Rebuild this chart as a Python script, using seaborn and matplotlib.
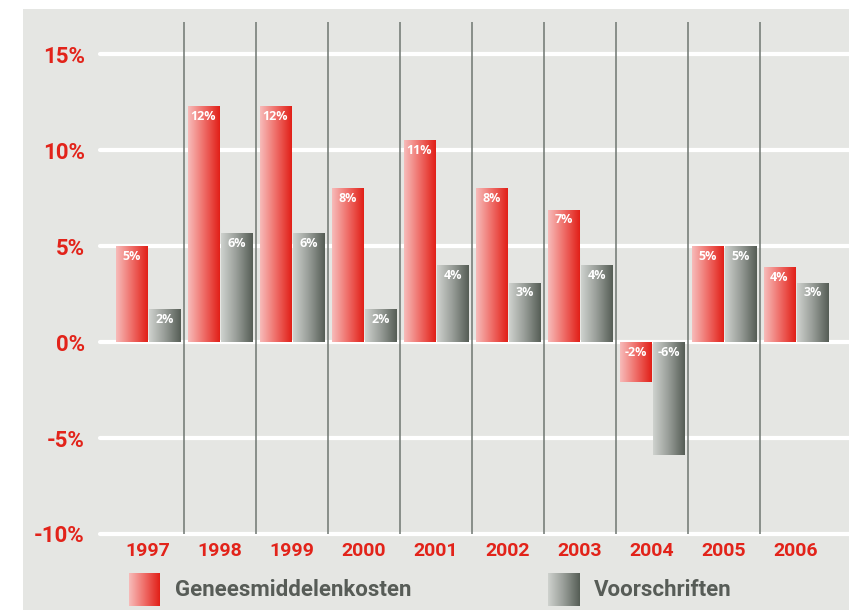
import numpy as np
import pandas as pd
import matplotlib
matplotlib.use("Agg")
import matplotlib.pyplot as plt
from matplotlib.colors import LinearSegmentedColormap
from matplotlib.patches import Rectangle
import seaborn as sns

# data
jaren = ['1997', '1998', '1999', '2000', '2001', '2002', '2003', '2004', '2005', '2006']
reeksen = ['Geneesmiddelenkosten', 'Voorschriften']
kosten = [5.0, 12.3, 12.3, 8.0, 10.5, 8.0, 6.9, -2.1, 5.0, 3.9]
voorschriften = [1.7, 5.7, 5.7, 1.7, 4.0, 3.1, 4.0, -5.9, 5.0, 3.1]
kosten_labels = ['5%', '12%', '12%', '8%', '11%', '8%', '7%', '-2%', '5%', '4%']
voorschriften_labels = ['2%', '6%', '6%', '2%', '4%', '3%', '4%', '-6%', '5%', '3%']
y_ticks = [-10, -5, 0, 5, 10, 15]
y_ticklabels = ['-10%', '-5%', '0%', '5%', '10%', '15%']

df = pd.DataFrame({
    'jaar': jaren * 2,
    'reeks': [reeksen[0]] * len(jaren) + [reeksen[1]] * len(jaren),
    'waarde': kosten + voorschriften,
})

ROOD = '#e2231a'
BG = '#e5e6e3'
TXT = '#575c57'
cmap_rood = LinearSegmentedColormap.from_list('rood', ['#f7bcba', '#ef6d68', '#e11f17'])
cmap_grijs = LinearSegmentedColormap.from_list('grijs', ['#cfd2ce', '#979c97', '#555d55'])
grad = np.linspace(0, 1, 256).reshape(1, -1)

narrow = ['Roboto', 'DejaVu Sans']
normal = ['Open Sans', 'DejaVu Sans']

sns.set_theme(style='white')
plt.rcParams['font.family'] = normal

fig = plt.figure(figsize=(8.49, 6.10), dpi=100)
fig.patch.set_facecolor('white')
fig.patches.append(Rectangle((23 / 849, 0), 1, 1 - 9 / 610, transform=fig.transFigure,
                             facecolor=BG, edgecolor='none', zorder=-5))

ax = fig.add_axes([100 / 849, 1 - 534 / 610, 749 / 849, 512 / 610])
ax.set_facecolor('none')
ax.set_zorder(2)

sns.barplot(data=df, x='jaar', y='waarde', hue='reeks', hue_order=reeksen,
            palette=[ROOD, '#777777'], width=0.92, gap=0.06, legend=False,
            edgecolor='none', ax=ax, zorder=3)

# gradient fill
for cont, cmap in zip(ax.containers, [cmap_rood, cmap_grijs]):
    for p in cont.patches:
        bb = p.get_bbox()
        im = ax.imshow(grad, cmap=cmap, aspect='auto', zorder=3,
                       extent=[bb.x0, bb.x1, bb.y0, bb.y1], interpolation='bilinear')
        im.set_clip_path(p)
        p.set_facecolor('none')

# value labels
for i in range(len(jaren)):
    for cont, vals, labs in zip(ax.containers, [kosten, voorschriften],
                                [kosten_labels, voorschriften_labels]):
        p = cont.patches[i]
        xc = p.get_x() + p.get_width() / 2
        ax.annotate(labs[i], (xc, max(vals[i], 0)), xytext=(0, -7.5), textcoords='offset points',
                    ha='center', va='center', color='white', fontsize=9, fontweight='bold',
                    family=normal, zorder=5)

# white gridlines and group separators
for y in y_ticks:
    ax.axhline(y, color='white', lw=3, zorder=1, clip_on=False)
for x in np.arange(len(jaren) - 1) + 0.5:
    ax.axvline(x, color='#6f7671', lw=1.1, zorder=2)

ax.set_xlim(-0.667, 9.736)
ax.set_ylim(-10, 16.67)
ax.set_yticks(y_ticks)
ax.set_yticklabels(y_ticklabels)
ax.set_xlabel('')
ax.set_ylabel('')
ax.tick_params(axis='both', length=0)
ax.tick_params(axis='y', pad=11, labelsize=16, labelcolor=ROOD)
ax.tick_params(axis='x', pad=6, labelsize=14, labelcolor=ROOD)
for lab in ax.get_yticklabels() + ax.get_xticklabels():
    lab.set_fontweight('bold')
    lab.set_family(narrow)
sns.despine(ax=ax, left=True, bottom=True)

# legend
for x0, cmap, naam in [(129, cmap_rood, reeksen[0]), (548, cmap_grijs, reeksen[1])]:
    lax = fig.add_axes([x0 / 849, 1 - 606 / 610, 31 / 849, 33 / 610])
    lax.imshow(grad, cmap=cmap, aspect='auto', interpolation='bilinear')
    lax.axis('off')
    fig.text((x0 + 46) / 849, 1 - 590 / 610, naam, ha='left', va='center',
             color=TXT, fontsize=16, fontweight='bold', family=narrow)

fig.savefig('out.png', dpi=100)
